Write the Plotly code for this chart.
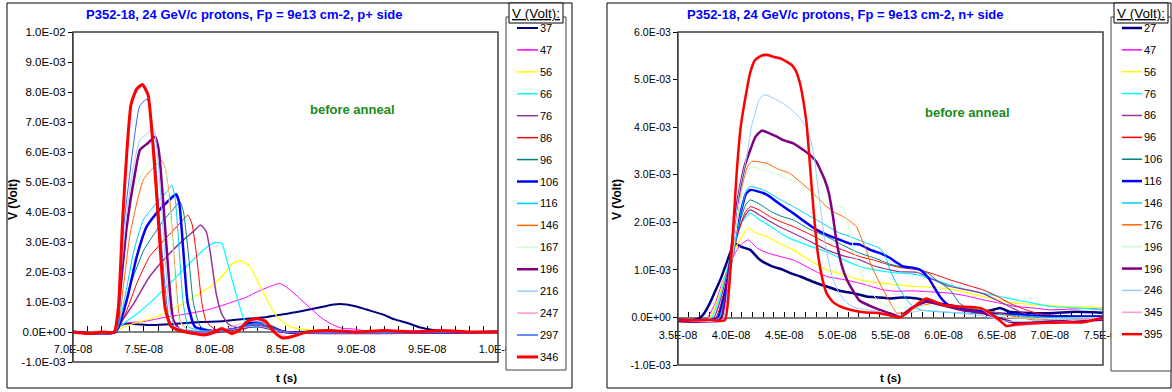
import plotly.graph_objects as go

W, H = 1172, 392

# ---------------- data: left panel, p+ side (t in ns, V in mV) ----------------
P_VOLTAGES = ["37", "47", "56", "66", "76", "86", "96", "106", "116", "146",
              "167", "196", "216", "247", "297", "346"]

P_37 = [(70.0, 0.02), (71.5, -0.03), (72.9, 0.0), (73.3, 0.2), (73.8, 0.28), (74.5, 0.26),
        (75.5, 0.23), (76.5, 0.25), (77.5, 0.28), (79.0, 0.33), (80.5, 0.36), (81.3, 0.4),
        (82.5, 0.45), (83.7, 0.5), (85.0, 0.6), (86.0, 0.68), (87.2, 0.8), (88.4, 0.92),
        (89.3, 0.92), (90.0, 0.85), (90.7, 0.75), (91.9, 0.58), (92.7, 0.42), (93.6, 0.3),
        (94.5, 0.15), (95.4, 0.07), (96.5, 0.02), (98.0, 0.0), (100.0, 0.02)]
P_47 = [(70.0, 0.0), (72.9, 0.0), (73.3, 0.2), (73.8, 0.3), (75.0, 0.35), (76.6, 0.5),
        (78.0, 0.6), (79.4, 0.73), (80.5, 0.88), (81.3, 1.01), (82.2, 1.15), (83.0, 1.34),
        (83.8, 1.5), (84.6, 1.62), (85.2, 1.45), (86.0, 1.12), (86.9, 0.73), (87.6, 0.45),
        (88.3, 0.25), (89.0, 0.12), (89.8, 0.1), (90.5, 0.05), (92.0, 0.0), (94.0, 0.05),
        (97.0, 0.0), (100.0, 0.0)]
P_56 = [(70.0, 0.0), (72.9, 0.0), (73.3, 0.1), (74.3, 0.29), (75.9, 0.51), (77.8, 0.96),
        (78.8, 1.25), (79.7, 1.51), (80.5, 1.85), (81.3, 2.29), (81.8, 2.38), (82.5, 2.18),
        (83.1, 1.62), (83.7, 1.07), (84.4, 0.51), (85.3, 0.18), (86.5, 0.08), (88.0, 0.05),
        (90.0, 0.02), (93.0, 0.0), (100.0, 0.0)]
P_66 = [(70.0, 0.0), (72.9, 0.0), (73.6, 0.3), (74.5, 0.6), (75.9, 1.18), (77.3, 1.84),
        (78.7, 2.51), (79.5, 2.85), (80.0, 2.98), (80.5, 2.96), (80.8, 2.5), (81.3, 1.62),
        (82.0, 0.51), (82.4, 0.18), (83.0, 0.15), (83.5, 0.2), (84.3, 0.1), (85.0, 0.0),
        (87.0, 0.05), (90.0, 0.0), (100.0, 0.0)]
P_76 = [(70.0, 0.0), (73.0, 0.0), (73.5, 0.4), (74.3, 0.96), (75.4, 1.84), (76.6, 2.51),
        (77.8, 3.07), (78.5, 3.35), (79.0, 3.57), (79.4, 3.35), (79.7, 2.63), (80.1, 1.3),
        (80.5, 0.6), (81.0, 0.25), (82.0, 0.1), (83.0, 0.25), (84.0, 0.2), (85.0, 0.0),
        (87.0, 0.0), (100.0, 0.0)]
P_86 = [(70.0, 0.0), (73.0, 0.0), (73.8, 0.73), (74.5, 1.62), (75.4, 2.51), (76.3, 3.0),
        (77.1, 3.4), (77.7, 3.7), (78.1, 3.9), (78.4, 3.6), (78.7, 2.63), (79.1, 0.96),
        (79.4, 0.35), (80.0, 0.1), (81.0, 0.05), (82.0, 0.15), (83.0, 0.3), (84.0, 0.2),
        (85.0, 0.0), (100.0, 0.0)]
P_96 = [(70.0, 0.0), (73.0, 0.0), (74.0, 1.51), (75.0, 2.73), (75.7, 3.25), (76.4, 3.73),
        (77.0, 4.05), (77.55, 4.34), (77.8, 4.0), (78.14, 2.63), (78.5, 0.96), (79.0, 0.18),
        (79.8, 0.05), (81.0, 0.05), (82.0, 0.15), (83.0, 0.3), (84.0, 0.2), (85.0, 0.0),
        (100.0, 0.0)]
P_106 = [(70.0, 0.0), (73.0, 0.0), (73.8, 1.07), (74.5, 2.51), (75.2, 3.51), (76.1, 4.07),
         (76.8, 4.4), (77.27, 4.59), (77.5, 4.3), (77.8, 2.63), (78.1, 0.96), (78.6, 0.18),
         (79.5, 0.05), (80.5, 0.05), (81.5, 0.1), (82.5, 0.3), (83.3, 0.3), (84.2, 0.1),
         (85.0, 0.0), (100.0, 0.0)]
P_116 = [(70.0, 0.0), (73.0, 0.0), (73.67, 1.18), (74.26, 2.63), (74.96, 3.73), (75.9, 4.3),
         (76.5, 4.6), (76.96, 4.9), (77.2, 4.5), (77.43, 3.18), (77.78, 0.96), (78.14, 0.18),
         (79.0, 0.05), (81.0, 0.05), (82.5, 0.25), (83.3, 0.3), (84.0, 0.15), (85.0, 0.0),
         (100.0, 0.0)]
P_146 = [(70.0, 0.0), (73.0, 0.0), (73.55, 1.5), (74.0, 3.18), (74.5, 4.3), (74.96, 5.07),
         (75.6, 5.45), (76.26, 5.71), (76.5, 5.5), (76.85, 4.3), (77.2, 2.07), (77.55, 0.4),
         (78.0, 0.1), (79.0, 0.0), (80.0, 0.05), (81.0, 0.0), (82.5, 0.2), (83.3, 0.25),
         (84.0, 0.1), (85.0, 0.0), (100.0, 0.0)]
P_167 = [(70.0, 0.0), (73.0, 0.0), (73.5, 2.0), (73.9, 4.0), (74.6, 5.0), (75.4, 5.7),
         (75.9, 5.82), (76.2, 5.88), (76.5, 5.5), (76.9, 3.8), (77.2, 1.8), (77.5, 0.4),
         (78.0, 0.1), (80.0, 0.0), (83.0, 0.2), (85.0, 0.0), (100.0, 0.0)]
P_196 = [(70.0, 0.0), (73.0, 0.0), (73.3, 1.2), (73.79, 3.5), (74.38, 5.3), (74.73, 6.07),
         (75.3, 6.3), (75.79, 6.51), (76.0, 6.2), (76.14, 5.7), (76.5, 3.5), (76.85, 1.3),
         (77.08, 0.4), (77.5, 0.1), (78.5, 0.0), (80.0, 0.0), (83.0, 0.2), (85.0, 0.0),
         (100.0, 0.0)]
P_216 = [(70.0, 0.0), (73.0, 0.0), (73.3, 1.5), (73.8, 4.0), (74.3, 5.6), (74.73, 6.4),
         (75.2, 6.6), (75.67, 6.79), (75.9, 6.2), (76.2, 4.5), (76.5, 2.5), (76.8, 0.8),
         (77.2, 0.2), (78.0, 0.05), (80.0, 0.0), (83.0, 0.2), (85.0, 0.0), (100.0, 0.0)]
P_247 = [(70.0, 0.0), (72.9, 0.0), (73.2, 0.8), (73.5, 3.6), (73.8, 5.9), (74.1, 7.5),
         (74.5, 8.05), (74.9, 8.2), (75.3, 7.85), (75.6, 6.45), (75.9, 4.55), (76.2, 2.45),
         (76.5, 0.8), (76.9, 0.2), (77.5, 0.05), (80.0, 0.0), (83.0, 0.4), (85.0, -0.15),
         (86.5, 0.0), (100.0, 0.0)]
P_297 = [(70.0, 0.0), (73.0, 0.0), (73.25, 1.5), (73.6, 3.6), (74.2, 6.0), (74.68, 7.5),
         (75.0, 7.7), (75.25, 7.76), (75.5, 7.2), (75.8, 5.8), (76.1, 3.8), (76.5, 1.5),
         (76.8, 0.4), (77.3, 0.1), (80.0, 0.0), (83.0, 0.25), (85.0, 0.0), (100.0, 0.0)]
P_346 = [(70.0, 0.0), (71.0, -0.05), (72.0, 0.0), (72.9, 0.0), (73.2, 0.8), (73.5, 3.7),
         (73.8, 6.0), (74.1, 7.6), (74.5, 8.1), (74.9, 8.25), (75.3, 7.9), (75.6, 6.5),
         (75.9, 4.6), (76.2, 2.5), (76.5, 0.8), (76.9, 0.2), (77.5, 0.05), (78.5, -0.05),
         (79.2, -0.1), (80.0, 0.0), (80.5, 0.12), (81.2, -0.05), (81.7, 0.05), (82.3, 0.35),
         (83.0, 0.45), (83.6, 0.35), (84.2, 0.0), (84.8, -0.2), (85.5, -0.15), (86.5, 0.0),
         (88.0, 0.05), (90.0, 0.0), (92.0, 0.05), (94.0, 0.0), (96.0, 0.05), (98.0, 0.0),
         (100.0, 0.0)]

P_SERIES = [P_37, P_47, P_56, P_66, P_76, P_86, P_96, P_106, P_116, P_146,
            P_167, P_196, P_216, P_247, P_297, P_346]

# ---------------- data: right panel, n+ side (t in ns, V in mV) ----------------
N_VOLTAGES = ["27", "47", "56", "76", "86", "96", "106", "116", "146", "176",
              "196", "196", "246", "345", "395"]

N_27 = [(35.0, -0.05), (36.0, -0.08), (37.0, -0.02), (37.5, 0.1), (38.0, 0.3), (38.5, 0.55),
        (39.0, 0.8), (39.5, 1.1), (39.9, 1.35), (40.36, 1.55), (41.0, 1.48), (41.8, 1.42),
        (42.7, 1.21), (43.8, 1.08), (44.9, 1.0), (45.7, 0.92), (46.5, 0.86), (47.7, 0.75),
        (49.0, 0.65), (50.2, 0.56), (51.5, 0.51), (52.75, 0.44), (54.0, 0.42), (54.95, 0.4),
        (56.0, 0.42), (57.5, 0.4), (58.4, 0.35), (59.3, 0.3), (60.2, 0.27), (61.2, 0.23),
        (62.5, 0.18), (63.7, 0.12), (64.5, 0.15), (65.3, 0.2), (66.2, 0.12), (67.5, 0.1),
        (70.0, 0.09), (72.5, 0.12), (75.0, 0.1)]
N_47 = [(35.0, -0.05), (37.4, -0.08), (37.8, 0.0), (38.5, 0.3), (39.2, 0.75), (40.0, 1.2),
        (40.8, 1.5), (41.6, 1.63), (42.5, 1.45), (43.5, 1.35), (44.8, 1.27), (45.85, 1.21),
        (47.5, 1.02), (49.0, 0.86), (50.5, 0.8), (52.1, 0.72), (53.2, 0.65), (54.3, 0.58),
        (55.5, 0.55), (57.0, 0.56), (58.5, 0.54), (60.6, 0.51), (62.2, 0.45), (63.7, 0.37),
        (65.3, 0.3), (66.8, 0.23), (68.4, 0.2), (70.0, 0.16), (72.5, 0.18), (75.0, 0.2)]
N_56 = [(35.0, -0.05), (37.6, -0.08), (38.0, 0.0), (38.7, 0.35), (39.4, 0.85), (40.2, 1.35),
        (41.0, 1.7), (41.6, 1.88), (42.3, 1.78), (43.35, 1.7), (44.6, 1.55), (45.85, 1.42),
        (47.4, 1.2), (49.0, 1.0), (50.5, 0.9), (52.1, 0.79), (53.2, 0.75), (54.3, 0.72),
        (55.9, 0.68), (57.5, 0.65), (59.0, 0.63), (60.6, 0.6), (62.2, 0.52), (63.7, 0.44),
        (65.3, 0.36), (66.8, 0.3), (68.4, 0.27), (70.0, 0.25), (71.6, 0.23), (73.3, 0.22),
        (75.0, 0.2)]
N_76 = [(35.0, -0.06), (37.8, -0.08), (38.2, 0.0), (38.9, 0.4), (39.6, 1.0), (40.3, 1.6),
        (41.0, 2.0), (41.8, 2.19), (42.7, 2.05), (43.8, 1.9), (44.8, 1.75), (45.85, 1.63),
        (47.4, 1.5), (49.0, 1.38), (50.5, 1.22), (52.1, 1.07), (53.5, 1.0), (54.95, 0.95),
        (55.9, 0.93), (57.5, 0.9), (59.0, 0.8), (60.6, 0.68), (62.2, 0.58), (63.7, 0.51),
        (65.3, 0.44), (66.8, 0.37), (68.4, 0.3), (70.0, 0.23), (72.5, 0.2), (75.0, 0.16)]
N_86 = [(35.0, -0.08), (38.0, -0.08), (38.4, 0.0), (39.1, 0.45), (39.8, 1.1), (40.5, 1.7),
        (41.2, 2.1), (41.8, 2.26), (42.7, 2.15), (43.8, 2.0), (44.8, 1.88), (45.85, 1.77),
        (47.4, 1.6), (49.0, 1.42), (50.5, 1.3), (52.1, 1.21), (53.5, 1.08), (54.95, 1.0),
        (55.9, 0.96), (57.5, 0.95), (59.0, 0.8), (60.6, 0.65), (62.2, 0.58), (63.7, 0.5),
        (65.3, 0.33), (66.8, 0.16), (68.4, 0.02), (70.0, -0.05), (72.5, -0.05), (75.0, -0.02)]
N_96 = [(35.0, -0.05), (38.2, -0.06), (38.6, 0.0), (39.3, 0.5), (40.0, 1.2), (40.7, 1.8),
        (41.3, 2.2), (41.8, 2.33), (42.7, 2.25), (43.8, 2.1), (44.8, 2.0), (45.85, 1.91),
        (47.4, 1.75), (49.0, 1.56), (50.5, 1.42), (52.1, 1.28), (53.5, 1.2), (54.95, 1.1),
        (55.9, 1.05), (57.0, 1.02), (57.8, 1.0), (59.2, 0.9), (60.6, 0.79), (62.2, 0.68),
        (63.7, 0.58), (65.0, 0.45), (66.2, 0.3), (67.5, 0.18), (68.75, 0.09), (70.0, 0.05),
        (72.5, 0.03), (75.0, 0.02)]
N_106 = [(35.0, -0.05), (38.3, -0.06), (38.7, 0.0), (39.4, 0.55), (40.1, 1.3), (40.8, 2.0),
         (41.4, 2.38), (41.8, 2.47), (42.7, 2.38), (43.8, 2.22), (44.8, 2.12), (45.85, 2.05),
         (47.4, 1.85), (49.0, 1.7), (50.5, 1.52), (52.1, 1.35), (53.5, 1.25), (54.95, 1.12),
         (55.9, 1.07), (57.8, 1.0), (58.6, 0.92), (59.3, 0.79), (60.0, 0.68), (60.6, 0.58),
         (61.1, 0.42), (61.5, 0.3), (62.2, 0.2), (62.9, 0.16), (64.5, 0.08), (67.0, 0.05),
         (70.0, 0.03), (75.0, 0.02)]
N_116 = [(35.0, -0.05), (38.4, -0.05), (38.8, 0.0), (39.5, 0.6), (40.2, 1.4), (40.9, 2.2),
         (41.4, 2.6), (41.8, 2.68), (42.5, 2.65), (43.35, 2.58), (44.6, 2.38), (45.85, 2.19),
         (47.0, 2.0), (48.05, 1.84), (49.2, 1.72), (50.25, 1.63), (51.2, 1.55), (52.1, 1.53),
         (53.1, 1.42), (54.0, 1.35), (54.95, 1.25), (55.6, 1.15), (56.2, 1.07), (57.0, 1.05),
         (57.8, 1.0), (58.3, 0.9), (58.7, 0.79), (59.2, 0.6), (59.65, 0.44), (60.1, 0.32),
         (60.6, 0.23), (62.0, 0.17), (63.7, 0.12), (65.5, 0.08), (68.0, 0.04), (70.0, 0.02),
         (75.0, 0.02)]
N_146 = [(35.0, -0.05), (38.5, -0.05), (38.9, 0.0), (39.6, 0.6), (40.3, 1.45), (41.0, 2.3),
         (41.5, 2.7), (41.8, 2.75), (42.5, 2.72), (43.35, 2.65), (44.6, 2.48), (45.85, 2.33),
         (47.0, 2.18), (48.05, 2.05), (49.2, 1.9), (50.25, 1.77), (51.2, 1.7), (52.75, 1.56),
         (54.0, 1.45), (54.5, 1.3), (54.95, 1.0), (55.4, 0.78), (55.9, 0.58), (56.5, 0.38),
         (57.1, 0.23), (58.0, 0.15), (59.5, 0.12), (61.0, 0.1), (63.0, 0.08), (66.0, 0.05),
         (70.0, 0.0), (75.0, 0.0)]
N_176 = [(35.0, -0.05), (38.6, -0.05), (39.0, 0.0), (39.7, 0.7), (40.4, 1.7), (41.0, 2.7),
         (41.5, 3.15), (41.94, 3.28), (42.6, 3.27), (43.35, 3.24), (44.4, 3.12), (45.5, 3.03),
         (46.5, 2.85), (47.4, 2.68), (48.2, 2.5), (48.98, 2.33), (49.8, 2.2), (50.55, 2.12),
         (51.2, 2.02), (51.8, 1.91), (52.1, 1.75), (52.75, 1.4), (53.1, 1.14), (53.7, 0.85),
         (54.3, 0.58), (55.0, 0.3), (55.6, 0.09), (56.2, 0.1), (56.8, 0.16), (58.0, 0.25),
         (59.0, 0.3), (60.5, 0.25), (62.0, 0.2), (63.7, 0.16), (66.0, 0.05), (68.4, -0.05),
         (70.0, -0.05), (72.5, -0.05), (75.0, -0.02)]
N_196A = [(35.0, -0.05), (38.6, -0.05), (39.0, 0.0), (39.7, 0.7), (40.4, 1.7), (41.0, 2.65),
          (41.5, 3.05), (41.9, 3.17), (42.6, 3.12), (43.35, 3.08), (44.4, 3.0), (45.5, 2.9),
          (46.5, 2.8), (47.4, 2.62), (48.2, 2.5), (49.0, 2.4), (50.0, 2.35), (50.55, 2.3),
          (51.2, 1.77), (51.8, 1.2), (52.1, 1.0), (53.1, 0.55), (54.0, 0.32), (54.95, 0.23),
          (56.0, 0.2), (57.5, 0.22), (58.4, 0.25), (60.0, 0.22), (62.0, 0.15), (64.0, 0.08),
          (66.0, 0.0), (70.0, -0.02), (75.0, 0.0)]
N_196B = [(35.0, -0.08), (38.7, -0.08), (39.1, 0.0), (39.6, 0.6), (40.1, 1.6), (40.5, 2.3),
          (40.8, 2.68), (41.3, 3.2), (41.8, 3.52), (42.3, 3.8), (42.9, 3.93), (43.5, 3.88),
          (44.3, 3.8), (45.0, 3.72), (45.85, 3.66), (46.6, 3.55), (47.4, 3.42), (48.0, 3.28),
          (48.4, 3.1), (48.8, 2.9), (49.2, 2.61), (49.6, 2.1), (49.9, 1.63), (50.4, 1.1),
          (50.9, 0.79), (51.5, 0.55), (52.1, 0.35), (53.0, 0.25), (54.0, 0.16), (55.0, 0.08),
          (55.9, 0.02), (57.0, 0.2), (58.4, 0.33), (60.0, 0.25), (61.8, 0.15), (63.7, 0.09),
          (65.0, 0.0), (66.8, -0.12), (68.5, -0.1), (70.0, -0.08), (72.5, -0.08), (75.0, -0.05)]
N_246 = [(35.0, -0.05), (38.9, -0.08), (39.3, 0.0), (39.8, 0.9), (40.3, 1.9), (40.8, 2.7),
         (41.47, 3.38), (41.9, 4.0), (42.25, 4.29), (42.6, 4.55), (43.03, 4.68), (43.6, 4.65),
         (44.3, 4.57), (45.0, 4.48), (45.5, 4.4), (46.0, 4.3), (46.5, 4.19), (47.0, 4.02),
         (47.4, 3.8), (47.8, 3.4), (48.2, 2.68), (48.5, 2.15), (48.8, 1.63), (49.2, 1.15),
         (49.6, 0.79), (50.2, 0.5), (50.9, 0.3), (51.8, 0.2), (52.75, 0.16), (54.0, 0.12),
         (55.5, 0.02), (56.5, 0.08), (58.0, 0.15), (60.0, 0.12), (62.0, 0.08), (64.0, 0.02),
         (66.0, -0.08), (68.0, -0.08), (70.0, -0.05), (75.0, -0.03)]
N_345 = [(35.0, -0.05), (39.4, -0.07), (39.8, 0.6), (40.2, 1.88), (40.52, 3.0), (40.9, 3.97),
         (41.47, 4.75), (41.8, 5.12), (42.25, 5.38), (42.8, 5.47), (43.35, 5.49), (44.0, 5.45),
         (44.6, 5.42), (45.2, 5.35), (45.7, 5.28), (46.1, 5.15), (46.48, 4.9), (46.8, 4.53),
         (47.1, 4.06), (47.35, 3.38), (47.6, 2.66), (47.9, 1.88), (48.2, 1.27), (48.6, 0.79),
         (48.98, 0.5), (49.6, 0.31), (50.25, 0.22), (52.1, 0.12), (54.0, 0.08), (55.9, 0.0),
         (57.6, 0.29), (58.4, 0.39), (60.0, 0.25), (63.4, 0.19), (65.9, -0.17), (70.6, -0.1),
         (75.0, 0.0)]
N_395 = [(35.0, -0.05), (36.5, -0.06), (38.0, -0.05), (39.4, -0.06), (39.8, 0.6), (40.2, 1.9),
         (40.52, 3.03), (40.9, 4.0), (41.47, 4.78), (41.8, 5.15), (42.25, 5.41), (42.8, 5.5),
         (43.35, 5.52), (44.0, 5.48), (44.6, 5.45), (45.2, 5.38), (45.7, 5.31), (46.1, 5.18),
         (46.48, 4.92), (46.8, 4.55), (47.1, 4.08), (47.35, 3.4), (47.6, 2.68), (47.9, 1.9),
         (48.2, 1.28), (48.6, 0.8), (48.98, 0.51), (49.6, 0.32), (50.25, 0.23), (51.2, 0.16),
         (52.13, 0.12), (53.0, 0.1), (54.0, 0.09), (55.0, 0.04), (55.9, 0.0), (56.7, 0.12),
         (57.6, 0.3), (58.4, 0.4), (59.2, 0.33), (60.0, 0.26), (61.5, 0.23), (63.4, 0.2),
         (64.4, 0.09), (65.2, -0.05), (65.9, -0.18), (66.8, -0.15), (68.4, -0.12),
         (70.6, -0.11), (73.2, -0.1), (74.2, -0.05), (75.0, 0.0)]

N_SERIES = [N_27, N_47, N_56, N_76, N_86, N_96, N_106, N_116, N_146, N_176,
            N_196A, N_196B, N_246, N_345, N_395]

# ---------------- axis tick labels ----------------
P_YTICK_TEXT = ["-1.0E-03", "0.0E+00", "1.0E-03", "2.0E-03", "3.0E-03", "4.0E-03",
                "5.0E-03", "6.0E-03", "7.0E-03", "8.0E-03", "9.0E-03", "1.0E-02"]
P_XTICK_TEXT = ["7.0E-08", "7.5E-08", "8.0E-08", "8.5E-08", "9.0E-08", "9.5E-08", "1.0E-07"]
N_YTICK_TEXT = ["-1.0E-03", "0.0E+00", "1.0E-03", "2.0E-03", "3.0E-03", "4.0E-03",
                "5.0E-03", "6.0E-03"]
N_XTICK_TEXT = ["3.5E-08", "4.0E-08", "4.5E-08", "5.0E-08", "5.5E-08", "6.0E-08",
                "6.5E-08", "7.0E-08", "7.5E-08"]

P_TITLE = "P352-18, 24 GeV/c protons, Fp = 9e13 cm-2, p+ side"
N_TITLE = "P352-18, 24 GeV/c protons, Fp = 9e13 cm-2, n+ side"

# ---------------- styles ----------------
P_COLORS = ["#000080", "#FF00FF", "#FFFF00", "#00FFFF", "#993399", "#FF0000", "#008080",
            "#0000FF", "#00CCFF", "#FF6600", "#CCFFCC", "#800080", "#99CCFF", "#FF99CC",
            "#3366FF", "#FF0000"]
P_WIDTHS = [2, 1, 1.2, 1.2, 1.5, 1, 1, 2.5, 1, 1, 1, 2.5, 1, 1, 1, 3]
N_COLORS = ["#000080", "#FF00FF", "#FFFF00", "#00FFFF", "#993399", "#FF0000", "#008080",
            "#0000FF", "#00CCFF", "#FF6600", "#CCFFCC", "#800080", "#99CCFF", "#FF99CC",
            "#FF0000"]
N_WIDTHS = [2.5, 1, 1.2, 1.2, 1.2, 1, 1, 2.5, 1, 1, 1, 2.5, 1, 1, 2.5]

FONT = "Liberation Sans, Arial, sans-serif"


def fx(px):
    return px / W


def fy(py):
    return 1 - py / H


fig = go.Figure()


def add_series(series, names, colors, widths, xa, ya):
    for s, n, c, w in zip(series, names, colors, widths):
        fig.add_trace(go.Scatter(
            x=[p[0] * 1e-9 for p in s], y=[p[1] * 1e-3 for p in s],
            mode="lines", name=n, showlegend=False, hoverinfo="skip",
            line=dict(color=c, width=w, shape="spline", smoothing=0.5),
            xaxis=xa, yaxis=ya))


add_series(P_SERIES, P_VOLTAGES, P_COLORS, P_WIDTHS, "x", "y")
add_series(N_SERIES, N_VOLTAGES, N_COLORS, N_WIDTHS, "x2", "y2")

# tick positions (every ns, label every 5 ns)
p_xk = list(range(70, 101))
p_xvals = [k / 1e9 for k in p_xk]
p_xtext = [P_XTICK_TEXT[(k - 70) // 5] if (k - 70) % 5 == 0 else "" for k in p_xk]
n_xk = list(range(35, 76))
n_xvals = [k / 1e9 for k in n_xk]
n_xtext = [N_XTICK_TEXT[(k - 35) // 5] if (k - 35) % 5 == 0 else "" for k in n_xk]
p_yvals = [k / 1e3 for k in range(-1, 11)]
n_yvals = [k / 1e3 for k in range(-1, 7)]

tickfont = dict(family=FONT, size=11, color="black")
common_x = dict(anchor="free", showgrid=False, zeroline=False, showline=True,
                linecolor="#808080", linewidth=2, ticks="inside", ticklen=5,
                tickcolor="black", tickwidth=1, tickmode="array", tickfont=tickfont,
                layer="below traces", ticklabelstandoff=7, fixedrange=True,
                automargin=False)
common_y = dict(showgrid=False, zeroline=False, showline=True, linecolor="#404040",
                linewidth=1, ticks="outside", ticklen=4, tickcolor="black",
                tickmode="array", layer="below traces", fixedrange=True,
                automargin=False)

fig.update_layout(
    width=W, height=H, autosize=False,
    margin=dict(l=0, r=0, t=0, b=0, autoexpand=False),
    paper_bgcolor="white", plot_bgcolor="white",
    showlegend=False,
    xaxis=dict(domain=[fx(73), fx(498)], range=[7e-8, 1e-7], position=fy(332),
               tickvals=p_xvals, ticktext=p_xtext, **common_x),
    yaxis=dict(domain=[fy(362), fy(32)], range=[-1e-3, 1e-2], anchor="x",
               tickvals=p_yvals, ticktext=P_YTICK_TEXT,
               tickfont=dict(family=FONT, size=11.5, color="black"), **common_y),
    xaxis2=dict(domain=[fx(678), fx(1103)], range=[3.5e-8, 7.5e-8], position=fy(317.6),
                tickvals=n_xvals, ticktext=n_xtext, **common_x),
    yaxis2=dict(domain=[fy(365), fy(32)], range=[-1e-3, 6e-3], anchor="x2",
                tickvals=n_yvals, ticktext=N_YTICK_TEXT,
                tickfont=dict(family=FONT, size=10.5, color="black"), **common_y),
)

shapes = []
# outer chart frames
shapes.append(dict(type="rect", xref="paper", yref="paper", x0=fx(7), x1=fx(572),
                   y0=fy(388), y1=fy(3), line=dict(color="black", width=1), layer="above"))
shapes.append(dict(type="rect", xref="paper", yref="paper", x0=fx(607), x1=fx(1171),
                   y0=fy(388), y1=fy(3), line=dict(color="black", width=1), layer="above"))
# plot-area frames
for xr, yr in (("x", "y"), ("x2", "y2")):
    shapes.append(dict(type="rect", xref=xr + " domain", yref=yr + " domain", x0=0, x1=1,
                       y0=0, y1=1, line=dict(color="#404040", width=1.5), layer="above"))

annotations = []


def legend(names, colors, widths, box, title_box, line_x, text_x, y0, dy):
    bx0, bx1, by0, by1 = box
    shapes.append(dict(type="rect", xref="paper", yref="paper", x0=fx(bx0), x1=fx(bx1),
                       y0=fy(by1), y1=fy(by0), fillcolor="white",
                       line=dict(color="#404040", width=1), layer="above"))
    tx0, tx1, ty0, ty1 = title_box
    shapes.append(dict(type="rect", xref="paper", yref="paper", x0=fx(tx0), x1=fx(tx1),
                       y0=fy(ty1), y1=fy(ty0), fillcolor="white",
                       line=dict(color="black", width=1), layer="above"))
    annotations.append(dict(xref="paper", yref="paper", x=fx((tx0 + tx1) / 2),
                            y=fy((ty0 + ty1) / 2 + 0.5), text="<u>V (Volt):</u>",
                            showarrow=False, xanchor="center", yanchor="middle",
                            font=dict(family=FONT, size=13.5, color="black")))
    for i, (n, c, w) in enumerate(zip(names, colors, widths)):
        yy = y0 + i * dy
        shapes.append(dict(type="line", xref="paper", yref="paper", x0=fx(line_x[0]),
                           x1=fx(line_x[1]), y0=fy(yy), y1=fy(yy),
                           line=dict(color=c, width=max(w, 1.5)), layer="above"))
        annotations.append(dict(xref="paper", yref="paper", x=fx(text_x), y=fy(yy),
                                text=n, showarrow=False, xanchor="left", yanchor="middle",
                                font=dict(family=FONT, size=11, color="black")))


legend(P_VOLTAGES, P_COLORS, P_WIDTHS, (506, 566, 17, 370), (509, 563, 3, 23),
       (517, 538), 538, 28, 21.93)
legend(N_VOLTAGES, N_COLORS, N_WIDTHS, (1111, 1171, 17, 371), (1114, 1168, 3, 23),
       (1122, 1142), 1142, 28, 21.87)


def label(x, y, text, size, color, bold=True, angle=0):
    annotations.append(dict(xref="paper", yref="paper", x=fx(x), y=fy(y),
                            text=f"<b>{text}</b>" if bold else text, showarrow=False,
                            xanchor="center", yanchor="middle", textangle=angle,
                            font=dict(family=FONT, size=size, color=color)))


label(244, 15, P_TITLE, 13, "#0000FF")
label(845, 15, N_TITLE, 13, "#0000FF")
label(352, 109, "before anneal", 13, "#1A8A1A")
label(967, 112, "before anneal", 13, "#1A8A1A")
label(286, 378, "t (s)", 11.5, "black")
label(890, 378, "t (s)", 11.5, "black")
label(13, 200, "V (Volt)", 12, "black", angle=-90)
label(617, 200, "V (Volt)", 12, "black", angle=-90)

fig.update_layout(shapes=shapes, annotations=annotations)

fig.write_html("out.html")
